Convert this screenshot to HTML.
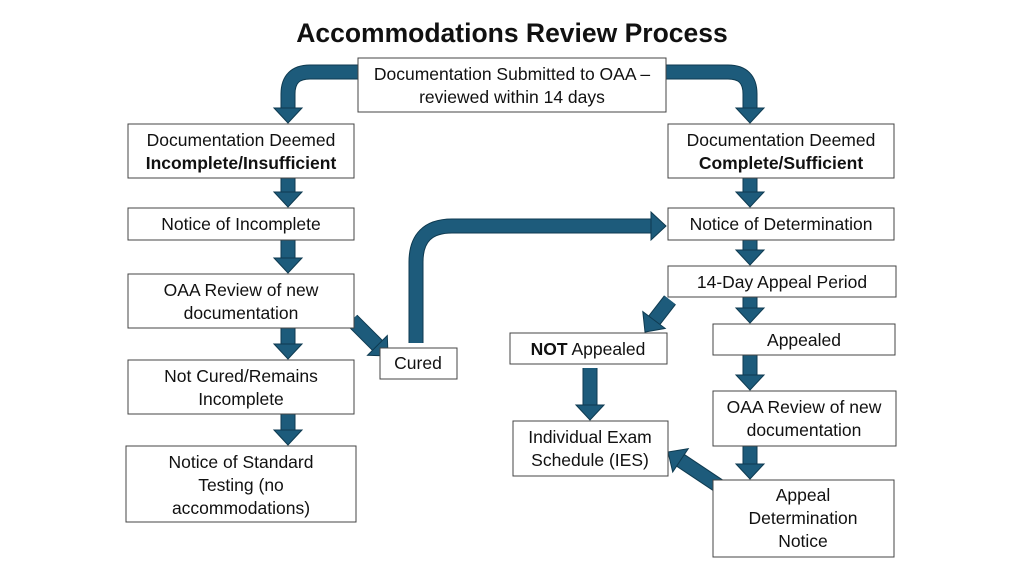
<!DOCTYPE html>
<html><head><meta charset="utf-8"><style>
body{margin:0;background:#fff;}
svg{display:block}
text{font-family:"Liberation Sans",sans-serif;font-size:17.5px;fill:#111;text-anchor:middle}
.t{font-size:26.5px;font-weight:bold}
rect{fill:#fff;stroke:#444;stroke-width:1}
</style></head><body>
<svg id="s" width="1024" height="576" viewBox="0 0 1024 576">
<text class="t" x="512" y="42">Accommodations Review Process</text>
<g id="arr"></g>
<rect x="358" y="58" width="308" height="54"/>
<text x="512" y="80">Documentation Submitted to OAA –</text><text x="512" y="103">reviewed within 14 days</text>
<rect x="128" y="124" width="226" height="54"/>
<text x="241" y="146">Documentation Deemed</text><text x="241" y="169" font-weight="bold">Incomplete/Insufficient</text>
<rect x="128" y="208" width="226" height="32"/><text x="241" y="230">Notice of Incomplete</text>
<rect x="128" y="274" width="226" height="54"/>
<text x="241" y="296">OAA Review of new</text><text x="241" y="319">documentation</text>
<rect x="128" y="360" width="226" height="54"/>
<text x="241" y="382">Not Cured/Remains</text><text x="241" y="405">Incomplete</text>
<rect x="126" y="446" width="230" height="76"/>
<text x="241" y="468">Notice of Standard</text><text x="241" y="491">Testing (no</text><text x="241" y="514">accommodations)</text>
<rect x="380" y="348" width="77" height="31"/><text x="418" y="369">Cured</text>
<rect x="668" y="124" width="226" height="54"/>
<text x="781" y="146">Documentation Deemed</text><text x="781" y="169" font-weight="bold">Complete/Sufficient</text>
<rect x="668" y="208" width="226" height="32"/><text x="781" y="230">Notice of Determination</text>
<rect x="668" y="266" width="228" height="31"/><text x="782" y="288">14-Day Appeal Period</text>
<rect x="510" y="333" width="157" height="31"/><text x="588" y="355"><tspan font-weight="bold">NOT</tspan> Appealed</text>
<rect x="713" y="324" width="182" height="31"/><text x="804" y="346">Appealed</text>
<rect x="513" y="421" width="155" height="55"/>
<text x="590" y="443">Individual Exam</text><text x="590" y="466">Schedule (IES)</text>
<rect x="713" y="391" width="183" height="55"/>
<text x="804" y="413">OAA Review of new</text><text x="804" y="436">documentation</text>
<rect x="713" y="480" width="181" height="77"/>
<text x="803" y="501">Appeal</text><text x="803" y="524">Determination</text><text x="803" y="547">Notice</text>
</svg>
<script>
var g=document.getElementById('arr'),NS='http://www.w3.org/2000/svg';
function add(tag,at){var e=document.createElementNS(NS,tag);for(var k in at)e.setAttribute(k,at[k]);g.appendChild(e);}
function arrow(d,tx,ty,dx,dy){
 var L=Math.hypot(dx,dy);dx/=L;dy/=L;var hl=15,hw=14;
 var bx=tx-dx*hl,by=ty-dy*hl,px=-dy,py=dx;
 var pts=[tx+','+ty,(bx+px*hw)+','+(by+py*hw),(bx-px*hw)+','+(by-py*hw)].join(' ');
 add('path',{d:d,fill:'none',stroke:'#0e3a50','stroke-width':15});
 add('path',{d:d,fill:'none',stroke:'#1d5b7b','stroke-width':13});
 add('polygon',{points:pts,fill:'#1d5b7b',stroke:'#0e3a50','stroke-width':1});
}
function v(x,y1,y2){arrow('M'+x+' '+y1+' L'+x+' '+(y2-14),x,y2,0,1);}
arrow('M360 72 L310 72 Q288 72 288 94 L288 109',288,123,0,1);
arrow('M664 72 L728 72 Q750 72 750 94 L750 109',750,123,0,1);
v(288,178,207);v(288,240,273);v(288,328,359);v(288,414,445);
v(750,178,207);v(750,240,265);v(750,297,323);v(750,355,390);v(750,446,479);
v(590,368,420);
arrow('M416 343 L416 262 Q416 226 452 226 L652 226',666,226,1,0);
arrow('M352 320 L378 346',388,356,1,1);
arrow('M670 300 L653 322',645,332,-0.75,1);
arrow('M722 488 L680 460',668,452,-1.5,-1);
</script>
</body></html>
